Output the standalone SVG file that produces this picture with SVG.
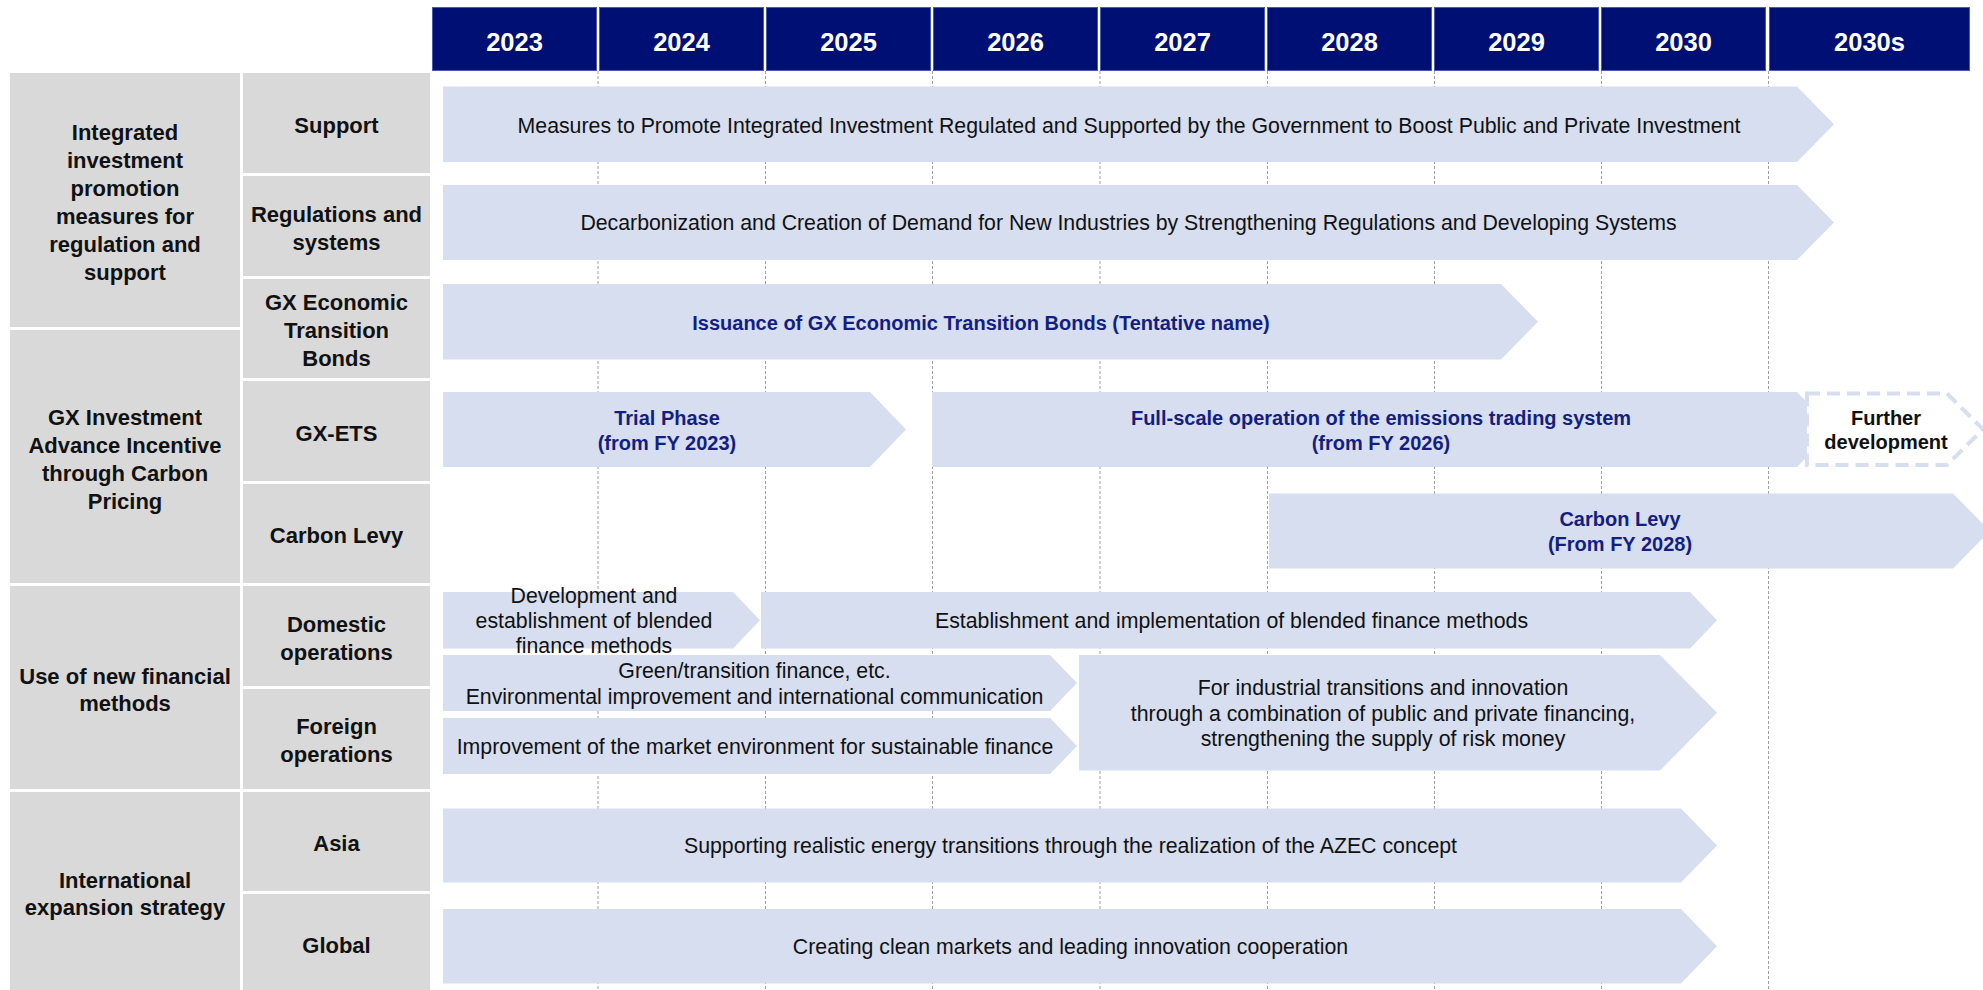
<svg xmlns="http://www.w3.org/2000/svg" width="1983" height="990" viewBox="0 0 1983 990">
<style>
.hdr{fill:#000F73;stroke:#4A5AB0;stroke-width:1}
.hdrt{font-family:"Liberation Sans",Arial,sans-serif;font-weight:bold;font-size:25.5px;fill:#fff;text-anchor:middle}
.cat{fill:#D9D9D9}
.lbl{font-family:"Liberation Sans",Arial,sans-serif;font-weight:bold;font-size:22px;fill:#111;text-anchor:middle}
.arr{fill:#D6DEEF}
.dash{fill:#fff;stroke:#D6DEEF;stroke-width:4;stroke-dasharray:13 7}
.grid{stroke:#A0A0A0;stroke-width:1;stroke-dasharray:3 2;fill:none}
.t{font-family:"Liberation Sans",Arial,sans-serif;font-size:21.3px;fill:#111;text-anchor:middle}
.tb{font-family:"Liberation Sans",Arial,sans-serif;font-weight:bold;font-size:20px;fill:#141E82;text-anchor:middle}
.tk{font-family:"Liberation Sans",Arial,sans-serif;font-weight:bold;font-size:20px;fill:#111;text-anchor:middle}
</style>
<rect width="1983" height="990" fill="#fff"/>

<g id="header">
<rect class="hdr" x="432.5" y="7.5" width="164" height="63"/>
<rect class="hdr" x="599.5" y="7.5" width="164" height="63"/>
<rect class="hdr" x="766.5" y="7.5" width="164" height="63"/>
<rect class="hdr" x="933.5" y="7.5" width="164" height="63"/>
<rect class="hdr" x="1100.5" y="7.5" width="164" height="63"/>
<rect class="hdr" x="1267.5" y="7.5" width="164" height="63"/>
<rect class="hdr" x="1434.5" y="7.5" width="164" height="63"/>
<rect class="hdr" x="1601.5" y="7.5" width="164" height="63"/>
<rect class="hdr" x="1769.5" y="7.5" width="200" height="63"/>
<text class="hdrt" x="514.5" y="50.5">2023</text>
<text class="hdrt" x="681.5" y="50.5">2024</text>
<text class="hdrt" x="848.5" y="50.5">2025</text>
<text class="hdrt" x="1015.5" y="50.5">2026</text>
<text class="hdrt" x="1182.5" y="50.5">2027</text>
<text class="hdrt" x="1349.5" y="50.5">2028</text>
<text class="hdrt" x="1516.5" y="50.5">2029</text>
<text class="hdrt" x="1683.5" y="50.5">2030</text>
<text class="hdrt" x="1869.5" y="50.5">2030s</text>
</g>

<g id="categories">
<g id="cat-integrated">
<rect class="cat" x="10" y="73" width="230" height="254"/>
<text class="lbl" x="125" y="139.5">Integrated</text>
<text class="lbl" x="125" y="168">investment</text>
<text class="lbl" x="125" y="196">promotion</text>
<text class="lbl" x="125" y="224">measures for</text>
<text class="lbl" x="125" y="252">regulation and</text>
<text class="lbl" x="125" y="280">support</text>
</g>
<g id="cat-carbon">
<rect class="cat" x="10" y="330" width="230" height="253"/>
<text class="lbl" x="125" y="424.5">GX Investment</text>
<text class="lbl" x="125" y="452.5">Advance Incentive</text>
<text class="lbl" x="125" y="480.5">through Carbon</text>
<text class="lbl" x="125" y="508.5">Pricing</text>
</g>
<g id="cat-finance">
<rect class="cat" x="10" y="586" width="230" height="203"/>
<text class="lbl" x="125" y="683.5">Use of new financial</text>
<text class="lbl" x="125" y="711">methods</text>
</g>
<g id="cat-intl">
<rect class="cat" x="10" y="792" width="230" height="198"/>
<text class="lbl" x="125" y="887.5">International</text>
<text class="lbl" x="125" y="915">expansion strategy</text>
</g>
</g>

<g id="subcategories">
<g id="sub-support"><rect class="cat" x="243" y="73" width="187" height="100"/><text class="lbl" x="336.5" y="132.5">Support</text></g>
<g id="sub-regs"><rect class="cat" x="243" y="176" width="187" height="100"/><text class="lbl" x="336.5" y="221.5">Regulations and</text><text class="lbl" x="336.5" y="249.5">systems</text></g>
<g id="sub-bonds"><rect class="cat" x="243" y="279" width="187" height="99"/><text class="lbl" x="336.5" y="310">GX Economic</text><text class="lbl" x="336.5" y="338">Transition</text><text class="lbl" x="336.5" y="366">Bonds</text></g>
<g id="sub-ets"><rect class="cat" x="243" y="381" width="187" height="100"/><text class="lbl" x="336.5" y="441">GX-ETS</text></g>
<g id="sub-levy"><rect class="cat" x="243" y="484" width="187" height="99"/><text class="lbl" x="336.5" y="542.5">Carbon Levy</text></g>
<g id="sub-domestic"><rect class="cat" x="243" y="586" width="187" height="100"/><text class="lbl" x="336.5" y="631.5">Domestic</text><text class="lbl" x="336.5" y="659.5">operations</text></g>
<g id="sub-foreign"><rect class="cat" x="243" y="689" width="187" height="100"/><text class="lbl" x="336.5" y="733.5">Foreign</text><text class="lbl" x="336.5" y="761.5">operations</text></g>
<g id="sub-asia"><rect class="cat" x="243" y="792" width="187" height="99"/><text class="lbl" x="336.5" y="851">Asia</text></g>
<g id="sub-global"><rect class="cat" x="243" y="894" width="187" height="96"/><text class="lbl" x="336.5" y="953">Global</text></g>
</g>

<g id="grid">
<line class="grid" x1="598" y1="71" x2="598" y2="990"/>
<line class="grid" x1="765.5" y1="71" x2="765.5" y2="990"/>
<line class="grid" x1="932.5" y1="71" x2="932.5" y2="990"/>
<line class="grid" x1="1100" y1="71" x2="1100" y2="990"/>
<line class="grid" x1="1267.5" y1="71" x2="1267.5" y2="990"/>
<line class="grid" x1="1434.5" y1="71" x2="1434.5" y2="990"/>
<line class="grid" x1="1601.5" y1="71" x2="1601.5" y2="990"/>
<line class="grid" x1="1768.5" y1="71" x2="1768.5" y2="990"/>
</g>

<g id="bar-support">
<path class="arr" d="M443 86.5H1797L1834 124.25L1797 162H443Z"/>
<text class="t" x="1129" y="132.5">Measures to Promote Integrated Investment Regulated and Supported by the Government to Boost Public and Private Investment</text>
</g>
<g id="bar-regs">
<path class="arr" d="M443 185H1797L1834 222.5L1797 260H443Z"/>
<text class="t" x="1128.5" y="230">Decarbonization and Creation of Demand for New Industries by Strengthening Regulations and Developing Systems</text>
</g>
<g id="bar-bonds">
<path class="arr" d="M443 284H1501L1538 321.75L1501 359.5H443Z"/>
<text class="tb" x="981" y="330">Issuance of GX Economic Transition Bonds (Tentative name)</text>
</g>
<g id="bar-trial">
<path class="arr" d="M443 392H870L906 429.5L870 467H443Z"/>
<text class="tb" x="667" y="425">Trial Phase</text>
<text class="tb" x="667" y="450">(from FY 2023)</text>
</g>
<g id="bar-fullscale">
<path class="arr" d="M932 392H1797L1834 429.5L1797 467H932Z"/>
<text class="tb" x="1381" y="425">Full-scale operation of the emissions trading system</text>
<text class="tb" x="1381" y="449.5">(from FY 2026)</text>
</g>
<g id="bar-further">
<path class="dash" d="M1807 393.5H1947L1983 429.25L1947 465H1807Z"/>
<text class="tk" x="1886" y="424.5">Further</text>
<text class="tk" x="1886" y="448.5">development</text>
</g>
<g id="bar-levy">
<path class="arr" d="M1269 493.5H1953L1990 531L1953 568.5H1269Z"/>
<text class="tb" x="1620" y="526">Carbon Levy</text>
<text class="tb" x="1620" y="550.5">(From FY 2028)</text>
</g>
<g id="bar-development">
<path class="arr" d="M443 592H733L760 620.25L733 648.5H443Z"/>
<text class="t" x="594" y="602.5">Development and</text>
<text class="t" x="594" y="628">establishment of blended</text>
<text class="t" x="594" y="652.5">finance methods</text>
</g>
<g id="bar-establishment">
<path class="arr" d="M761 592H1690L1717 620.25L1690 648.5H761Z"/>
<text class="t" x="1231.5" y="628">Establishment and implementation of blended finance methods</text>
</g>
<g id="bar-green">
<path class="arr" d="M443 655H1050L1077 683L1050 711H443Z"/>
<text class="t" x="754.5" y="677.5">Green/transition finance, etc.</text>
<text class="t" x="754.5" y="703.5">Environmental improvement and international communication</text>
</g>
<g id="bar-improvement">
<path class="arr" d="M443 718H1050L1077 746L1050 774H443Z"/>
<text class="t" x="755" y="753.5">Improvement of the market environment for sustainable finance</text>
</g>
<g id="bar-industrial">
<path class="arr" d="M1079 655H1660L1717 712.75L1660 770.5H1079Z"/>
<text class="t" x="1383" y="694.5">For industrial transitions and innovation</text>
<text class="t" x="1383" y="720.5">through a combination of public and private financing,</text>
<text class="t" x="1383" y="746">strengthening the supply of risk money</text>
</g>
<g id="bar-asia">
<path class="arr" d="M443 808.5H1681L1717 845.5L1681 882.5H443Z"/>
<text class="t" x="1070.5" y="852.5">Supporting realistic energy transitions through the realization of the AZEC concept</text>
</g>
<g id="bar-global">
<path class="arr" d="M443 909H1681L1717 946.25L1681 983.5H443Z"/>
<text class="t" x="1070.5" y="953.5">Creating clean markets and leading innovation cooperation</text>
</g>
</svg>
